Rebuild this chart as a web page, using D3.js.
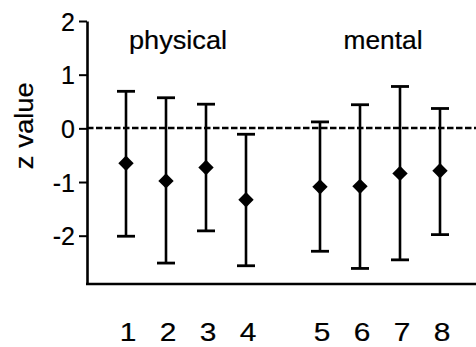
<!DOCTYPE html>
<html>
<head>
<meta charset="utf-8">
<script src="https://cdnjs.cloudflare.com/ajax/libs/d3/7.8.5/d3.min.js"></script>
<style>
  html, body { margin: 0; padding: 0; background: #fff; }
  svg { display: block; font-family: "Liberation Sans", Arial, Helvetica, sans-serif; }
  svg text { stroke: #000; stroke-width: 0.2px; }
</style>
</head>
<body>
<div id="chart"></div>
<script>
// condition numbers and which group each one belongs to
const conditions = ['1', '2', '3', '4', '5', '6', '7', '8'];
const groups = ['physical', 'physical', 'physical', 'physical', 'mental', 'mental', 'mental', 'mental'];
const groupLabels = ['physical', 'mental'];

// z values: mean and the ends of the error bars
const means = [-0.65, -0.98, -0.73, -1.33, -1.09, -1.08, -0.84, -0.79];
const upper = [0.69, 0.57, 0.45, -0.11, 0.12, 0.44, 0.78, 0.37];
const lower = [-2.01, -2.51, -1.91, -2.56, -2.29, -2.61, -2.45, -1.98];

const yTicks = [-2, -1, 0, 1, 2];
const yMin = -2.9;
const yMax = 2;

const width = 476;
const height = 347;
const margin = { top: 21, right: 0, bottom: 62, left: 87 };

const svg = d3.select('#chart').append('svg')
    .attr('width', width)
    .attr('height', height);

// slot index per bar, with a gap between the two groups
const groupGap = 0.85;
const slot = (d, i) => i + (groups[i] === 'mental' ? groupGap : 0);

const x = d3.scaleLinear()
    .domain([0, 1])
    .range([126, 166]);

const y = d3.scaleLinear()
    .domain([yMin, yMax])
    .range([height - margin.bottom - 1, margin.top]);

// y axis
const yAxis = d3.axisLeft(y)
    .tickValues(yTicks)
    .tickFormat(d => String(d))
    .tickSize(8)
    .tickSizeOuter(0)
    .tickPadding(4);

const yg = svg.append('g')
    .attr('transform', `translate(${margin.left},0)`)
    .call(yAxis);

yg.select('.domain')
    .attr('stroke', '#000')
    .attr('stroke-width', 2.6);
yg.selectAll('.tick line')
    .attr('stroke', '#000')
    .attr('stroke-width', 2);
yg.selectAll('.tick text')
    .attr('fill', '#000')
    .style('font-size', '25px')
    .attr('dy', '0.36em');

// x axis baseline
svg.append('line')
    .attr('x1', margin.left - 1)
    .attr('x2', width)
    .attr('y1', y(yMin))
    .attr('y2', y(yMin))
    .attr('stroke', '#000')
    .attr('stroke-width', 2.6);

// zero reference line
svg.append('line')
    .attr('x1', margin.left)
    .attr('x2', width)
    .attr('y1', Math.round(y(0)))
    .attr('y2', Math.round(y(0)))
    .attr('stroke', '#000')
    .attr('stroke-width', 2.6)
    .attr('stroke-dasharray', '6.5,2.5');

svg.append('text')
    .attr('transform', `translate(33,${y(0.05)}) rotate(-90)`)
    .attr('text-anchor', 'middle')
    .attr('fill', '#000')
    .style('font-size', '25px')
    .attr('textLength', 87)
    .attr('lengthAdjust', 'spacingAndGlyphs')
    .text('z value');

// group titles
const groupWidths = { physical: 98, mental: 79 };
svg.selectAll('.group-label')
    .data(groupLabels)
    .enter().append('text')
    .attr('class', 'group-label')
    .attr('x', g => {
        const idx = d3.range(conditions.length).filter(i => groups[i] === g);
        return d3.mean(idx, i => x(slot(null, i))) + (g === 'physical' ? -8 : 3);
    })
    .attr('y', 49)
    .attr('text-anchor', 'middle')
    .attr('fill', '#000')
    .style('font-size', '25px')
    .attr('textLength', g => groupWidths[g])
    .attr('lengthAdjust', 'spacingAndGlyphs')
    .text(g => g);

// error bars
const capHalf = 9;
const bars = svg.selectAll('.bar')
    .data(conditions)
    .enter().append('g')
    .attr('class', 'bar')
    .attr('transform', (d, i) => `translate(${x(slot(d, i))},0)`);

bars.append('line')
    .attr('y1', (d, i) => y(upper[i]))
    .attr('y2', (d, i) => y(lower[i]))
    .attr('stroke', '#000')
    .attr('stroke-width', 2.6);

bars.append('line')
    .attr('x1', -capHalf)
    .attr('x2', capHalf)
    .attr('y1', (d, i) => y(upper[i]))
    .attr('y2', (d, i) => y(upper[i]))
    .attr('stroke', '#000')
    .attr('stroke-width', 2.8);

bars.append('line')
    .attr('x1', -capHalf)
    .attr('x2', capHalf)
    .attr('y1', (d, i) => y(lower[i]))
    .attr('y2', (d, i) => y(lower[i]))
    .attr('stroke', '#000')
    .attr('stroke-width', 2.8);

// diamond markers at the means
bars.append('path')
    .attr('d', d3.symbol().type(d3.symbolDiamond2).size(150))
    .attr('transform', (d, i) => `translate(0,${y(means[i])})`)
    .attr('fill', '#000');

// condition numbers under the plot
svg.selectAll('.cond-label')
    .data(conditions)
    .enter().append('text')
    .attr('class', 'cond-label')
    .attr('x', (d, i) => x(slot(d, i)) + 2)
    .attr('y', 341)
    .attr('text-anchor', 'middle')
    .attr('fill', '#000')
    .style('font-size', '26px')
    .attr('transform', (d, i) => {
        const cx = x(slot(d, i)) + 2;
        return `translate(${cx},0) scale(1.15,1) translate(${-cx},0)`;
    })
    .text(d => d);
</script>
</body>
</html>
